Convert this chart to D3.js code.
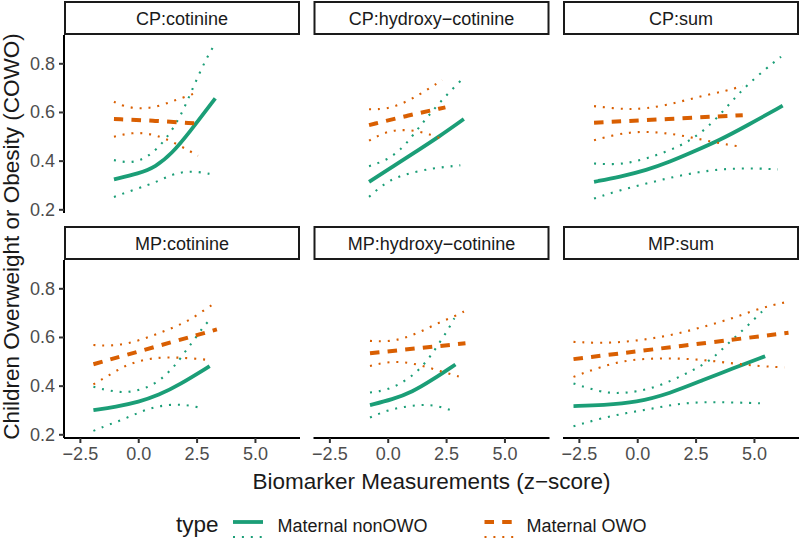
<!DOCTYPE html>
<html>
<head>
<meta charset="utf-8">
<script src="https://cdn.jsdelivr.net/npm/d3@7"></script>
<style>
  html, body { margin: 0; padding: 0; background: #fff; }
  svg { display: block; font-family: "Liberation Sans", Arial, sans-serif; }
</style>
</head>
<body>
<svg id="chart" width="800" height="540"></svg>
<script>
// ---------- data ----------
const panelNames = ["CP:cotinine", "CP:hydroxy\u2212cotinine", "CP:sum",
                    "MP:cotinine", "MP:hydroxy\u2212cotinine", "MP:sum"];
const typeNames = ["Maternal nonOWO", "Maternal OWO"];
const xTicks = [-2.5, 0, 2.5, 5];
const yTicks = [0.2, 0.4, 0.6, 0.8];
const xTitle = "Biomarker Measurements (z\u2212score)";
const yTitle = "Children Overweight or Obesity (COWO)";

// CP:cotinine
const cpCotNonFit = [[-1.04,0.323],[0.03,0.347],[0.74,0.374],[1.45,0.430],[2.16,0.512],[3.30,0.656]];
const cpCotNonHi  = [[-1.04,0.402],[-0.26,0.388],[0.46,0.416],[1.17,0.484],[1.81,0.580],[2.30,0.690],[2.88,0.814],[3.30,0.882]];
const cpCotNonLo  = [[-1.04,0.251],[0.03,0.288],[0.74,0.310],[1.45,0.344],[2.16,0.358],[2.88,0.350],[3.30,0.340]];
const cpCotOwoFit = [[-1.04,0.571],[0.74,0.564],[2.42,0.553]];
const cpCotOwoHi  = [[-1.04,0.642],[-0.65,0.624],[0.10,0.611],[0.85,0.622],[1.60,0.649],[2.24,0.670],[2.59,0.683]];
const cpCotOwoLo  = [[-1.04,0.498],[-0.26,0.516],[0.46,0.512],[1.17,0.491],[1.88,0.457],[2.56,0.420]];

// CP:hydroxy-cotinine
const cpHydNonFit = [[-0.80,0.313],[0.20,0.374],[1.19,0.436],[2.19,0.498],[3.26,0.571]];
const cpHydNonHi  = [[-0.80,0.377],[-0.02,0.402],[0.62,0.450],[1.05,0.501],[1.48,0.553],[1.83,0.594],[2.26,0.642],[2.76,0.693],[3.26,0.742]];
const cpHydNonLo  = [[-0.80,0.251],[-0.16,0.306],[0.48,0.336],[1.19,0.354],[1.90,0.368],[2.47,0.374],[3.11,0.381]];
const cpHydOwoFit = [[-0.80,0.546],[0.84,0.585],[2.47,0.619]];
const cpHydOwoHi  = [[-0.80,0.611],[-0.09,0.611],[0.62,0.633],[1.33,0.670],[1.90,0.704],[2.33,0.731]];
const cpHydOwoLo  = [[-0.80,0.482],[-0.09,0.519],[0.62,0.528],[1.33,0.521],[1.90,0.505],[2.47,0.484]];

// CP:sum
const cpSumNonFit = [[-1.85,0.313],[-0.74,0.333],[0.40,0.361],[1.40,0.395],[2.39,0.436],[3.53,0.484],[4.67,0.542],[6.23,0.626]];
const cpSumNonHi  = [[-1.85,0.388],[-1.02,0.384],[-0.31,0.391],[0.40,0.409],[1.11,0.432],[1.82,0.460],[2.39,0.491],[2.96,0.533],[3.53,0.587],[4.10,0.649],[4.67,0.707],[5.52,0.779],[6.16,0.827]];
const cpSumNonLo  = [[-1.85,0.244],[-0.74,0.279],[0.40,0.306],[1.54,0.333],[2.67,0.354],[3.53,0.364],[4.38,0.368],[5.23,0.368],[6.02,0.364]];
const cpSumOwoFit = [[-1.85,0.556],[1.33,0.571],[4.52,0.587]];
const cpSumOwoHi  = [[-1.85,0.624],[-1.02,0.615],[-0.31,0.611],[0.40,0.615],[1.25,0.628],[2.11,0.649],[2.96,0.670],[3.81,0.687],[4.52,0.707]];
const cpSumOwoLo  = [[-1.85,0.484],[-1.02,0.505],[-0.31,0.516],[0.40,0.519],[1.11,0.514],[1.82,0.505],[2.53,0.491],[3.24,0.477],[3.95,0.464],[4.52,0.457]];

// MP:cotinine
const mpCotNonFit = [[-1.92,0.299],[-0.96,0.313],[0.03,0.333],[0.88,0.361],[1.74,0.402],[3.06,0.480]];
const mpCotNonHi  = [[-1.92,0.395],[-1.25,0.379],[-0.54,0.370],[0.17,0.384],[0.74,0.409],[1.17,0.443],[1.52,0.477],[1.81,0.512],[2.16,0.560],[2.45,0.594],[2.80,0.645],[3.09,0.672]];
const mpCotNonLo  = [[-1.92,0.214],[-1.25,0.240],[-0.54,0.265],[0.17,0.296],[0.88,0.317],[1.59,0.323],[2.16,0.320],[2.80,0.306]];
const mpCotOwoFit = [[-1.92,0.488],[0.74,0.560],[3.37,0.631]];
const mpCotOwoHi  = [[-1.92,0.567],[-1.25,0.563],[-0.54,0.571],[0.17,0.590],[0.88,0.615],[1.59,0.642],[2.30,0.674],[3.02,0.724],[3.37,0.742]];
const mpCotOwoLo  = [[-1.92,0.405],[-1.25,0.443],[-0.54,0.484],[0.17,0.505],[0.88,0.516],[1.59,0.516],[2.30,0.512],[3.09,0.505]];

// MP:hydroxy-cotinine
const mpHydNonFit = [[-0.76,0.320],[0.20,0.343],[1.05,0.374],[1.90,0.423],[2.90,0.487]];
const mpHydNonHi  = [[-0.76,0.372],[-0.02,0.381],[0.70,0.416],[1.27,0.457],[1.77,0.512],[2.20,0.574],[2.62,0.635],[2.90,0.685]];
const mpHydNonLo  = [[-0.76,0.269],[-0.02,0.299],[0.70,0.313],[1.48,0.323],[2.19,0.317],[2.90,0.292]];
const mpHydOwoFit = [[-0.76,0.533],[3.33,0.574]];
const mpHydOwoHi  = [[-0.76,0.584],[-0.02,0.580],[0.70,0.594],[1.41,0.621],[2.12,0.656],[2.83,0.683],[3.33,0.708]];
const mpHydOwoLo  = [[-0.76,0.481],[-0.02,0.498],[0.70,0.498],[1.41,0.484],[2.12,0.464],[2.83,0.443],[3.30,0.430]];

// MP:sum
const mpSumNonFit = [[-2.73,0.316],[-1.45,0.320],[-0.03,0.331],[1.40,0.368],[2.82,0.423],[4.10,0.471],[5.48,0.521]];
const mpSumNonHi  = [[-2.73,0.409],[-1.59,0.374],[-0.88,0.368],[-0.03,0.374],[0.97,0.399],[1.96,0.443],[2.67,0.477],[3.24,0.512],[3.81,0.566],[4.38,0.615],[4.95,0.667],[5.45,0.714]];
const mpSumNonLo  = [[-2.73,0.233],[-1.59,0.265],[-0.45,0.288],[0.68,0.306],[1.82,0.327],[2.96,0.333],[4.10,0.331],[5.48,0.327]];
const mpSumOwoFit = [[-2.73,0.509],[1.87,0.563],[6.48,0.617]];
const mpSumOwoHi  = [[-2.73,0.580],[-1.59,0.574],[-0.45,0.580],[0.68,0.594],[1.82,0.615],[2.96,0.645],[4.10,0.677],[4.95,0.708],[5.80,0.731],[6.48,0.745]];
const mpSumOwoLo  = [[-2.73,0.436],[-1.59,0.477],[-0.45,0.505],[0.68,0.512],[1.82,0.512],[2.96,0.505],[4.10,0.491],[5.23,0.480],[6.30,0.475]];

const panelSeries = [
  {non: [cpCotNonFit, cpCotNonLo, cpCotNonHi], owo: [cpCotOwoFit, cpCotOwoLo, cpCotOwoHi]},
  {non: [cpHydNonFit, cpHydNonLo, cpHydNonHi], owo: [cpHydOwoFit, cpHydOwoLo, cpHydOwoHi]},
  {non: [cpSumNonFit, cpSumNonLo, cpSumNonHi], owo: [cpSumOwoFit, cpSumOwoLo, cpSumOwoHi]},
  {non: [mpCotNonFit, mpCotNonLo, mpCotNonHi], owo: [mpCotOwoFit, mpCotOwoLo, mpCotOwoHi]},
  {non: [mpHydNonFit, mpHydNonLo, mpHydNonHi], owo: [mpHydOwoFit, mpHydOwoLo, mpHydOwoHi]},
  {non: [mpSumNonFit, mpSumNonLo, mpSumNonHi], owo: [mpSumOwoFit, mpSumOwoLo, mpSumOwoHi]}
];

// ---------- layout ----------
const GREEN = "#1B9E77", ORANGE = "#D95F02";
const panelLefts = [64, 313.5, 563];
const panelW = 236;
const rowTops = [35, 260];        // panel area tops
const panelH = 178;
const stripH = 33;
const tickFont = 18, titleFont = 22.5;

const svg = d3.select("#chart");
const x = d3.scaleLinear().domain([-3.18, 6.93]).range([0, panelW]);
const y = d3.scaleLinear().domain([0.1848, 0.9163]).range([panelH, 0]);
const line = d3.line().x(d => x(d[0])).y(d => y(d[1])).curve(d3.curveBasis);

const styles = {
  fit: {non: {color: GREEN, w: 3.8, dash: null}, owo: {color: ORANGE, w: 4, dash: "9.5,8.2"}},
  ci:  {non: {color: GREEN, w: 2.1, dash: "2,6.9"}, owo: {color: ORANGE, w: 2.1, dash: "2,6.9"}}
};

panelNames.forEach((name, i) => {
  const col = i % 3, row = Math.floor(i / 3);
  const g = svg.append("g").attr("transform", `translate(${panelLefts[col]},${rowTops[row]})`);

  // strip
  g.append("rect")
    .attr("x", 1).attr("y", -stripH)
    .attr("width", panelW - 2).attr("height", stripH - 1)
    .attr("fill", "#fff").attr("stroke", "#1a1a1a").attr("stroke-width", 2);
  g.append("text")
    .attr("x", panelW / 2).attr("y", -10.5)
    .attr("text-anchor", "middle")
    .attr("font-size", tickFont).attr("fill", "#1a1a1a")
    .text(name);

  // series
  const ser = panelSeries[i];
  ["non", "owo"].forEach(t => {
    const [fit, lo, hi] = ser[t];
    [lo, hi].forEach(arr => {
      const s = styles.ci[t];
      g.append("path").attr("d", line(arr)).attr("fill", "none")
        .attr("stroke", s.color).attr("stroke-width", s.w)
        .attr("stroke-dasharray", s.dash);
    });
    const s = styles.fit[t];
    g.append("path").attr("d", line(fit)).attr("fill", "none")
      .attr("stroke", s.color).attr("stroke-width", s.w)
      .attr("stroke-dasharray", s.dash);
  });

  // y axis on left column
  if (col === 0) {
    const ya = g.append("g").call(d3.axisLeft(y).tickValues(yTicks).tickFormat(d3.format(".1f")).tickSize(5).tickPadding(4));
    ya.select(".domain").attr("d", `M0,0V${panelH}`).attr("stroke", "#000").attr("stroke-width", 2);
    ya.selectAll(".tick line").attr("stroke", "#333").attr("stroke-width", 2);
    ya.selectAll(".tick text").attr("font-size", tickFont).attr("fill", "#4D4D4D")
      .attr("font-family", "Liberation Sans, Arial, sans-serif");
  }
  // x axis on bottom row
  if (row === 1) {
    const xa = g.append("g").attr("transform", `translate(0,${panelH})`)
      .call(d3.axisBottom(x).tickValues(xTicks).tickFormat(d => d3.format(".1f")(d).replace("-", "\u2212")).tickSize(5).tickPadding(4));
    xa.select(".domain").attr("d", `M0,0H${panelW}`).attr("stroke", "#000").attr("stroke-width", 2);
    xa.selectAll(".tick line").attr("stroke", "#333").attr("stroke-width", 2);
    xa.selectAll(".tick text").attr("font-size", tickFont).attr("fill", "#4D4D4D")
      .attr("font-family", "Liberation Sans, Arial, sans-serif");
  }
});

// axis titles
svg.append("text")
  .attr("x", (panelLefts[0] + panelLefts[2] + panelW) / 2).attr("y", 489)
  .attr("text-anchor", "middle").attr("font-size", titleFont).attr("fill", "#1a1a1a")
  .text(xTitle);
svg.append("text")
  .attr("transform", `translate(19,${(rowTops[0] + rowTops[1] + panelH) / 2}) rotate(-90)`)
  .attr("text-anchor", "middle").attr("font-size", titleFont).attr("fill", "#1a1a1a")
  .text(yTitle);

// legend
const leg = svg.append("g");
leg.append("text").attr("x", 176).attr("y", 531.7)
  .attr("font-size", titleFont).attr("fill", "#1a1a1a").text("type");
const keyX = [233, 484.5];
const textX = [277.5, 526.5];
["non", "owo"].forEach((t, k) => {
  const f = styles.fit[t], c = styles.ci[t];
  leg.append("line").attr("x1", keyX[k]).attr("x2", keyX[k] + 30)
    .attr("y1", 522).attr("y2", 522)
    .attr("stroke", f.color).attr("stroke-width", f.w).attr("stroke-dasharray", f.dash);
  leg.append("line").attr("x1", keyX[k]).attr("x2", keyX[k] + 30)
    .attr("y1", 537).attr("y2", 537)
    .attr("stroke", c.color).attr("stroke-width", c.w).attr("stroke-dasharray", c.dash);
  leg.append("text").attr("x", textX[k]).attr("y", 531.7)
    .attr("font-size", tickFont).attr("fill", "#1a1a1a").text(typeNames[k]);
});
</script>
</body>
</html>
